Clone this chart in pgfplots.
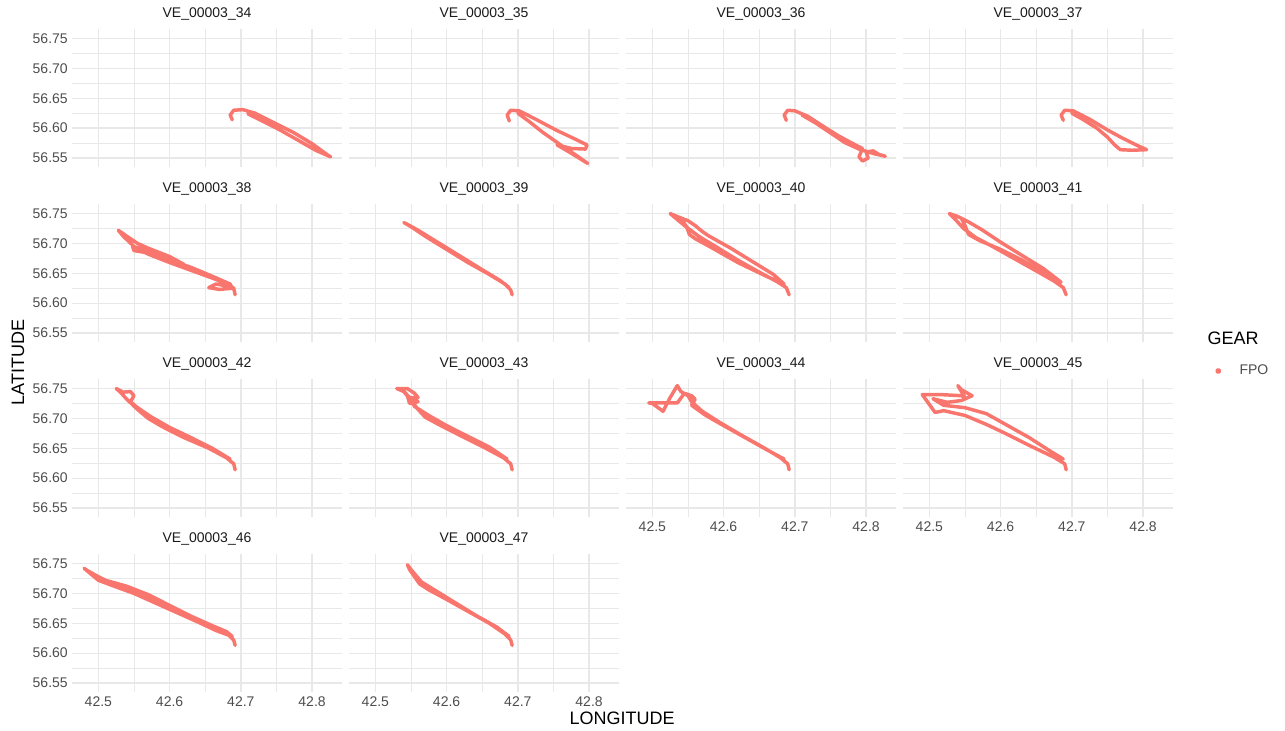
\documentclass[border=0pt]{standalone}
\usepackage{fontspec}
\setmainfont{Liberation Sans}
\usepackage{pgfplots}
\pgfplotsset{compat=1.18}
\definecolor{trackc}{HTML}{F8766D}
\definecolor{gridc}{HTML}{E8E8E8}
\definecolor{tickc}{HTML}{4D4D4D}
\definecolor{stripc}{HTML}{1A1A1A}
\pgfplotsset{
 trk/.style={color=trackc, line width=2.6pt, line join=round, line cap=round, mark=none},
 panel/.style={
  scale only axis, width=202.5pt, height=103.5pt, anchor=north west,
  xmin=42.463, xmax=42.842, ymin=56.535, ymax=56.766,
  axis line style={draw=none}, major tick length=0pt, minor tick length=0pt,
  xtick={42.5,42.6,42.7,42.8}, ytick={56.55,56.6,56.65,56.7,56.75},
  minor xtick={42.55,42.65,42.75}, minor ytick={56.575,56.625,56.675,56.725},
  grid=both, major grid style={line width=1.0pt, color=gridc},
  minor grid style={line width=0.5pt, color=gridc},
  xticklabels={}, yticklabels={},
  ticklabel style={font=\fontsize{10.5}{12}\selectfont, text=tickc},
  yticklabel style={anchor=east, inner sep=0pt, xshift=-3pt},
  xticklabel style={anchor=north, inner sep=0pt, yshift=-3pt},
  title style={at={(0.5,1)}, anchor=center, yshift=5.5pt, font=\fontsize{10.5}{12}\selectfont, text=stripc},
 },
 xl/.style={xticklabels={42.5,42.6,42.7,42.8}},
 yl/.style={yticklabels={56.55,56.60,56.65,56.70,56.75}},
}
\begin{document}
\begin{tikzpicture}
\path[use as bounding box] (0,0) rectangle (963.75pt,-548.25pt);
% row 1
\begin{axis}[panel, yl, at={(54pt,-21.75pt)}, title={VE\_00003\_34}]
\addplot[trk] coordinates {(42.688,56.614)(42.685,56.622)(42.690,56.630)(42.703,56.631)(42.720,56.625)(42.745,56.610)(42.775,56.592)(42.800,56.574)(42.822,56.555)(42.826,56.552)(42.805,56.563)(42.78,56.580)(42.755,56.597)(42.73,56.612)(42.71,56.624)};
\end{axis}
\begin{axis}[panel, at={(261.75pt,-21.75pt)}, title={VE\_00003\_35}]
\addplot[trk] coordinates {(42.688,56.612)(42.685,56.622)(42.690,56.630)(42.702,56.629)(42.725,56.615)(42.755,56.596)(42.78,56.582)(42.797,56.572)(42.795,56.565)(42.775,56.566)(42.755,56.572)(42.775,56.558)(42.798,56.541)(42.785,56.552)(42.76,56.572)(42.735,56.593)(42.715,56.612)(42.70,56.625)};
\end{axis}
\begin{axis}[panel, at={(469.5pt,-21.75pt)}, title={VE\_00003\_36}]
\addplot[trk] coordinates {(42.688,56.613)(42.685,56.622)(42.690,56.630)(42.700,56.629)(42.718,56.620)(42.74,56.603)(42.76,56.588)(42.78,56.575)(42.795,56.566)(42.79,56.552)(42.795,56.545)(42.803,56.550)(42.800,56.560)(42.81,56.562)(42.818,56.556)(42.827,56.553)(42.812,56.557)(42.79,56.565)(42.77,56.576)(42.75,56.592)(42.73,56.608)(42.71,56.622)};
\end{axis}
\begin{axis}[panel, at={(677.25pt,-21.75pt)}, title={VE\_00003\_37}]
\addplot[trk] coordinates {(42.688,56.613)(42.685,56.622)(42.690,56.630)(42.702,56.629)(42.725,56.615)(42.75,56.597)(42.77,56.584)(42.79,56.572)(42.805,56.564)(42.785,56.563)(42.768,56.564)(42.760,56.572)(42.75,56.585)(42.735,56.600)(42.715,56.615)(42.70,56.625)};
\end{axis}
% row 2
\begin{axis}[panel, yl, at={(54pt,-153pt)}, title={VE\_00003\_38}]
\addplot[trk] coordinates {(42.692,56.614)(42.690,56.625)(42.682,56.632)(42.66,56.642)(42.63,56.655)(42.60,56.668)(42.57,56.682)(42.55,56.695)(42.535,56.712)(42.528,56.722)(42.54,56.712)(42.555,56.700)(42.57,56.692)(42.60,56.678)(42.62,56.665)(42.60,56.668)(42.565,56.685)(42.55,56.688)(42.548,56.695)(42.57,56.688)(42.60,56.672)(42.63,56.660)(42.66,56.645)(42.685,56.632)(42.688,56.625)(42.67,56.623)(42.655,56.626)(42.665,56.632)(42.685,56.628)};
\end{axis}
\begin{axis}[panel, at={(261.75pt,-153pt)}, title={VE\_00003\_39}]
\addplot[trk] coordinates {(42.692,56.614)(42.690,56.622)(42.682,56.632)(42.66,56.648)(42.63,56.668)(42.60,56.690)(42.57,56.712)(42.55,56.728)(42.540,56.735)(42.548,56.730)(42.56,56.722)(42.59,56.700)(42.62,56.678)(42.65,56.656)(42.675,56.638)(42.688,56.626)};
\end{axis}
\begin{axis}[panel, at={(469.5pt,-153pt)}, title={VE\_00003\_40}]
\addplot[trk] coordinates {(42.692,56.614)(42.688,56.626)(42.675,56.636)(42.65,56.652)(42.62,56.672)(42.59,56.694)(42.565,56.712)(42.545,56.730)(42.53,56.745)(42.525,56.750)(42.535,56.745)(42.55,56.738)(42.56,56.73)(42.57,56.72)(42.58,56.712)(42.61,56.692)(42.64,56.670)(42.67,56.648)(42.685,56.632)(42.66,56.645)(42.62,56.668)(42.58,56.695)(42.56,56.708)(42.552,56.715)(42.548,56.728)(42.54,56.742)};
\end{axis}
\begin{axis}[panel, at={(677.25pt,-153pt)}, title={VE\_00003\_41}]
\addplot[trk] coordinates {(42.692,56.614)(42.688,56.626)(42.675,56.637)(42.65,56.654)(42.62,56.674)(42.59,56.694)(42.565,56.710)(42.548,56.725)(42.535,56.742)(42.528,56.750)(42.54,56.745)(42.555,56.736)(42.575,56.722)(42.60,56.702)(42.63,56.680)(42.66,56.658)(42.685,56.635)(42.665,56.648)(42.63,56.672)(42.60,56.690)(42.57,56.705)(42.555,56.715)(42.55,56.73)(42.545,56.742)};
\end{axis}
% row 3
\begin{axis}[panel, yl, at={(54pt,-284.25pt)}, title={VE\_00003\_42}]
\addplot[trk] coordinates {(42.692,56.614)(42.690,56.624)(42.680,56.634)(42.655,56.650)(42.62,56.668)(42.59,56.686)(42.57,56.700)(42.555,56.715)(42.54,56.732)(42.53,56.745)(42.525,56.750)(42.535,56.744)(42.545,56.745)(42.55,56.738)(42.545,56.728)(42.555,56.718)(42.575,56.702)(42.60,56.685)(42.63,56.668)(42.66,56.650)(42.685,56.632)};
\end{axis}
\begin{axis}[panel, at={(261.75pt,-284.25pt)}, title={VE\_00003\_43}]
\addplot[trk] coordinates {(42.692,56.614)(42.690,56.624)(42.680,56.634)(42.655,56.650)(42.625,56.668)(42.595,56.686)(42.57,56.702)(42.56,56.715)(42.55,56.73)(42.54,56.745)(42.53,56.750)(42.545,56.750)(42.555,56.742)(42.56,56.735)(42.55,56.735)(42.56,56.728)(42.548,56.725)(42.545,56.738)(42.538,56.748)(42.548,56.735)(42.555,56.72)(42.575,56.705)(42.60,56.688)(42.63,56.670)(42.66,56.652)(42.685,56.632)};
\end{axis}
\begin{axis}[panel, xl, at={(469.5pt,-284.25pt)}, title={VE\_00003\_44}]
\addplot[trk] coordinates {(42.692,56.614)(42.690,56.624)(42.680,56.634)(42.655,56.652)(42.625,56.672)(42.595,56.693)(42.57,56.712)(42.555,56.728)(42.55,56.738)(42.54,56.745)(42.535,56.755)(42.525,56.735)(42.515,56.712)(42.50,56.725)(42.495,56.726)(42.52,56.726)(42.535,56.726)(42.545,56.742)(42.555,56.738)(42.56,56.732)(42.555,56.722)(42.575,56.705)(42.60,56.688)(42.63,56.668)(42.66,56.648)(42.685,56.632)};
\end{axis}
\begin{axis}[panel, xl, at={(677.25pt,-284.25pt)}, title={VE\_00003\_45},
  legend style={at={(1.137,1.058)}, anchor=west, draw=none, fill=none, inner sep=0pt,
   nodes={inner sep=0pt, font=\fontsize{10.5}{12}\selectfont, text=tickc}},
  legend image code/.code={\path[draw=none, fill=none] (0pt,-4pt) rectangle (22pt,4pt); \fill[trackc] (6pt,0pt) circle (1.1pt);}]
\addplot[trk] coordinates {(42.692,56.614)(42.690,56.624)(42.675,56.635)(42.64,56.655)(42.61,56.673)(42.58,56.690)(42.55,56.705)(42.52,56.713)(42.508,56.710)(42.49,56.740)(42.515,56.740)(42.545,56.738)(42.55,56.735)(42.54,56.755)(42.545,56.748)(42.56,56.738)(42.545,56.730)(42.525,56.727)(42.505,56.733)(42.52,56.722)(42.55,56.718)(42.58,56.708)(42.61,56.688)(42.64,56.668)(42.67,56.645)(42.688,56.632)};
\addlegendentry{FPO}
\end{axis}
% row 4
\begin{axis}[panel, xl, yl, at={(54pt,-415.5pt)}, title={VE\_00003\_46}]
\addplot[trk] coordinates {(42.692,56.613)(42.690,56.622)(42.683,56.630)(42.665,56.638)(42.64,56.652)(42.61,56.668)(42.58,56.684)(42.55,56.700)(42.52,56.713)(42.50,56.722)(42.49,56.732)(42.48,56.742)(42.485,56.738)(42.50,56.728)(42.51,56.722)(42.54,56.712)(42.57,56.698)(42.60,56.680)(42.63,56.662)(42.66,56.646)(42.68,56.636)(42.688,56.628)(42.66,56.642)(42.62,56.664)(42.59,56.680)(42.56,56.697)(42.53,56.712)};
\end{axis}
\begin{axis}[panel, xl, at={(261.75pt,-415.5pt)}, title={VE\_00003\_47}]
\addplot[trk] coordinates {(42.692,56.613)(42.690,56.622)(42.682,56.632)(42.66,56.650)(42.63,56.670)(42.60,56.690)(42.575,56.706)(42.562,56.716)(42.555,56.728)(42.548,56.740)(42.545,56.748)(42.550,56.740)(42.557,56.73)(42.565,56.719)(42.58,56.708)(42.61,56.686)(42.64,56.664)(42.67,56.644)(42.688,56.628)};
\end{axis}
% axis titles and legend title
\node[font=\fontsize{13.5}{16}\selectfont, rotate=90] at (13.5pt,-272pt) {LATITUDE};
\node[font=\fontsize{13.5}{16}\selectfont] at (466.5pt,-538.5pt) {LONGITUDE};
\node[font=\fontsize{13.5}{16}\selectfont, anchor=west] at (902.25pt,-253.5pt) {GEAR};
\end{tikzpicture}
\end{document}
